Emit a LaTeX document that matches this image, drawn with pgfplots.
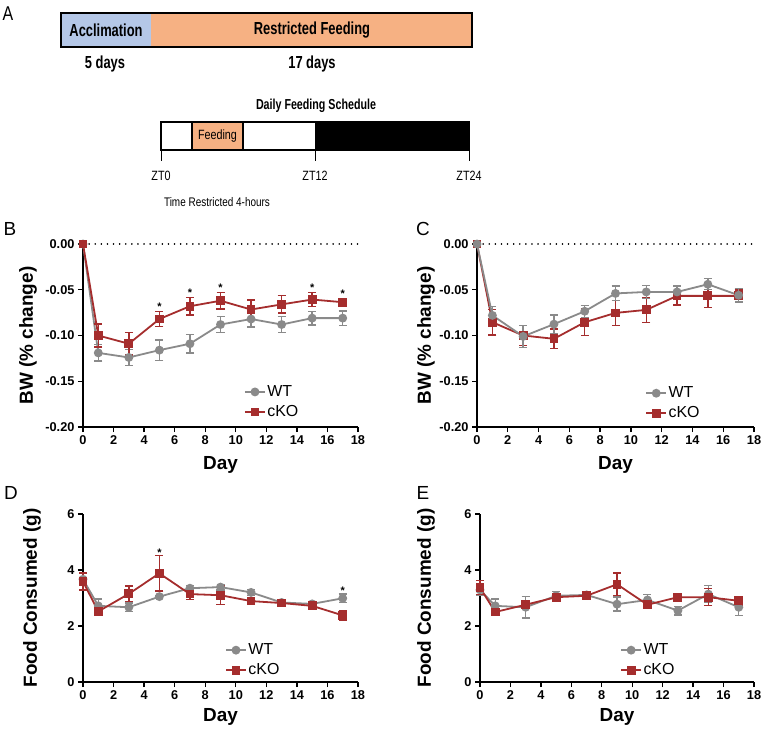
\documentclass[border=0pt]{standalone}
\usepackage{pgfplots}
\pgfplotsset{compat=1.18}
\usepackage{fontspec}
\setmainfont{Liberation Sans}
\newfontfamily\narrowfont[FakeStretch=0.74]{Liberation Sans}
\newfontfamily\narrowerfont[FakeStretch=0.8]{Liberation Sans}
\definecolor{wtgray}{RGB}{138,138,138}
\definecolor{kored}{RGB}{165,45,45}
\definecolor{accblue}{RGB}{180,199,231}
\definecolor{feedorange}{RGB}{246,177,131}

\tikzset{star/.style={font=\bfseries\fontsize{11}{11}\selectfont, yshift=-2bp}}
\pgfplotsset{
  panel/.style={
    scale only axis, axis lines=left,
    axis line style={-, line width=1.8bp, black},
    tick align=outside, major tick length=5bp,
    tick style={line width=1.4bp, black},
    xmin=0, xmax=18, xtick={0,2,...,18},
    ticklabel style={font=\bfseries\fontsize{12.8}{13}\selectfont},
    /pgf/number format/assume math mode=true,
    xlabel={Day},
    label style={font=\bfseries\fontsize{19}{20}\selectfont},
    xlabel style={at={(axis description cs:0.5,-0.21)}, anchor=center},
    clip=false,
    legend style={draw=none, fill=none, anchor=west, inner sep=0pt,
      font=\fontsize{16}{16}\selectfont, row sep=4bp,
      nodes={inner sep=1.5bp, text height=11bp, text depth=2bp}},
    legend cell align=left,
    legend image code/.code={\draw[mark repeat=2,mark phase=2] plot coordinates {(0bp,0bp) (10bp,0bp) (20bp,0bp)};},
  },
  wt/.style={wtgray, line width=1.8bp, mark=*, mark size=3.5bp,
    mark options={solid, fill=wtgray, draw=wtgray},
    error bars/y dir=both, error bars/y explicit,
    error bars/error bar style={line width=1.4bp, wtgray},
    error bars/error mark options={rotate=90, line width=1.4bp, mark size=4bp, wtgray}},
  ko/.style={kored, line width=1.8bp, mark=square*, mark size=3.5bp,
    mark options={solid, fill=kored, draw=kored},
    error bars/y dir=both, error bars/y explicit,
    error bars/error bar style={line width=1.4bp, kored},
    error bars/error mark options={rotate=90, line width=1.4bp, mark size=4bp, kored}},
}

\begin{document}
\begin{tikzpicture}
\path[use as bounding box] (0,0) rectangle (766bp,-733bp);

% ---------------- Panel A ----------------
\begin{scope}[x=1bp,y=1bp]
\fill[accblue] (61,-13) rectangle (151,-47);
\fill[feedorange] (151,-13) rectangle (472,-47);
\draw[line width=2.6bp] (61,-13) rectangle (472,-47);
\node[font=\narrowfont\bfseries\fontsize{17.5}{18}\selectfont] at (106,-30) {Acclimation};
\node[font=\narrowfont\bfseries\fontsize{17.5}{18}\selectfont] at (312,-30) {Restricted Feeding};
\node[font=\narrowfont\bfseries\fontsize{17.5}{18}\selectfont] at (105,-64) {5 days};
\node[font=\narrowfont\bfseries\fontsize{17.5}{18}\selectfont] at (312,-64) {17 days};
\node[font=\narrowfont\bfseries\fontsize{14.5}{15}\selectfont] at (316,-106) {Daily Feeding Schedule};
\fill[white] (161,-122) rectangle (315,-150);
\fill[black] (315,-122) rectangle (469,-150);
\fill[feedorange] (192,-122) rectangle (243,-150);
\draw[line width=1.2bp] (192,-122) rectangle (243,-150);
\draw[line width=1.6bp] (161,-122) rectangle (469,-150);
\draw[line width=0.8bp] (161,-150) -- (161,-161);
\draw[line width=0.8bp] (315,-150) -- (315,-161);
\draw[line width=0.8bp] (469,-150) -- (469,-161);
\node[font=\narrowerfont\fontsize{13.5}{14}\selectfont] at (217.5,-136) {Feeding};
\node[font=\narrowerfont\fontsize{13.5}{14}\selectfont] at (161,-176) {ZT0};
\node[font=\narrowerfont\fontsize{13.5}{14}\selectfont] at (315,-176) {ZT12};
\node[font=\narrowerfont\fontsize{13.5}{14}\selectfont] at (469,-176) {ZT24};
\node[font=\narrowerfont\fontsize{12.5}{13}\selectfont] at (217,-202) {Time Restricted 4-hours};
\node[font=\narrowerfont\fontsize{20}{20}\selectfont] at (8,-14) {A};
\node[font=\fontsize{19}{19}\selectfont] at (10,-229) {B};
\node[font=\fontsize{19}{19}\selectfont] at (423,-229) {C};
\node[font=\fontsize{19}{19}\selectfont] at (11,-493) {D};
\node[font=\fontsize{19}{19}\selectfont] at (423,-493) {E};
\end{scope}

% ---------------- Panel B ----------------
\begin{axis}[panel, at={(83bp,-427bp)}, anchor=south west, width=275bp, height=183bp,
  ymin=-0.2, ymax=0, ytick={-0.2,-0.15,-0.1,-0.05,0},
  yticklabels={-0.20,-0.15,-0.10,-0.05,0.00},
  ylabel={BW (\% change)},
  ylabel style={at={(axis description cs:-0.2,0.5)}, anchor=center},
  legend style={at={(0.585,0.137)}}]
\addplot[black, line width=1.6bp, dash pattern=on 0.1bp off 6bp, line cap=round, forget plot] coordinates {(0,0) (18,0)};
\addplot[wt] coordinates {
 (0,0) +- (0,0)
 (1,-0.119) +- (0,0.009)
 (3,-0.124) +- (0,0.009)
 (5,-0.116) +- (0,0.011)
 (7,-0.109) +- (0,0.010)
 (9,-0.088) +- (0,0.0085)
 (11,-0.082) +- (0,0.0085)
 (13,-0.088) +- (0,0.0085)
 (15,-0.081) +- (0,0.0075)
 (17,-0.081) +- (0,0.008)
};
\addplot[ko] coordinates {
 (0,0) +- (0,0)
 (1,-0.100) +- (0,0.0125)
 (3,-0.109) +- (0,0.0125)
 (5,-0.082) +- (0,0.008)
 (7,-0.068) +- (0,0.0095)
 (9,-0.062) +- (0,0.009)
 (11,-0.0716) +- (0,0.0104)
 (13,-0.066) +- (0,0.0094)
 (15,-0.0607) +- (0,0.0075)
 (17,-0.0636) +- (0,0.003)
};
\legend{WT,cKO}
\node[star] at (axis cs:5,-0.0665) {*};
\node[star] at (axis cs:7,-0.0513) {*};
\node[star] at (axis cs:9,-0.0458) {*};
\node[star] at (axis cs:15,-0.0458) {*};
\node[star] at (axis cs:17,-0.052) {*};
\end{axis}

% ---------------- Panel C ----------------
\begin{axis}[panel, at={(477bp,-427bp)}, anchor=south west, width=277bp, height=183bp,
  ymin=-0.2, ymax=0, ytick={-0.2,-0.15,-0.1,-0.05,0},
  yticklabels={-0.20,-0.15,-0.10,-0.05,0.00},
  ylabel={BW (\% change)},
  ylabel style={at={(axis description cs:-0.184,0.5)}, anchor=center},
  legend style={at={(0.607,0.13)}}]
\addplot[black, line width=1.6bp, dash pattern=on 0.1bp off 6bp, line cap=round, forget plot] coordinates {(0,0) (18,0)};
\addplot[ko, forget plot] coordinates {
 (0,0) +- (0,0)
 (1,-0.0855) +- (0,0.014)
 (3,-0.100) +- (0,0.011)
 (5,-0.1036) +- (0,0.0105)
 (7,-0.0855) +- (0,0.0145)
 (9,-0.0753) +- (0,0.0135)
 (11,-0.072) +- (0,0.0135)
 (13,-0.0567) +- (0,0.010)
 (15,-0.0567) +- (0,0.0125)
 (17,-0.0567) +- (0,0.0065)
};
\addplot[wt] coordinates {
 (0,0) +- (0,0)
 (1,-0.078) +- (0,0.010)
 (3,-0.101) +- (0,0.012)
 (5,-0.0876) +- (0,0.010)
 (7,-0.0735) +- (0,0.0066)
 (9,-0.054) +- (0,0.008)
 (11,-0.0524) +- (0,0.007)
 (13,-0.0524) +- (0,0.0067)
 (15,-0.044) +- (0,0.006)
 (17,-0.056) +- (0,0.0075)
};
\addlegendentry{WT}
\addlegendimage{ko}
\addlegendentry{cKO}
\end{axis}

% ---------------- Panel D ----------------
\begin{axis}[panel, at={(83bp,-682bp)}, anchor=south west, width=275bp, height=168bp,
  ymin=0, ymax=6, ytick={0,2,4,6},
  ylabel={Food Consumed (g)},
  ylabel style={at={(axis description cs:-0.185,0.5)}, anchor=center},
  legend style={at={(0.516,0.13)}}]
\addplot[wt] coordinates {
 (0,3.67) +- (0,0.2)
 (1,2.72) +- (0,0.25)
 (3,2.67) +- (0,0.15)
 (5,3.05) +- (0,0.05)
 (7,3.35) +- (0,0.1)
 (9,3.39) +- (0,0.1)
 (11,3.20) +- (0,0.1)
 (13,2.84) +- (0,0.1)
 (15,2.79) +- (0,0.05)
 (17,2.99) +- (0,0.15)
};
\addplot[ko] coordinates {
 (0,3.59) +- (0,0.3)
 (1,2.52) +- (0,0.1)
 (3,3.15) +- (0,0.28)
 (5,3.88) +- (0,0.63)
 (7,3.14) +- (0,0.2)
 (9,3.10) +- (0,0.33)
 (11,2.89) +- (0,0.12)
 (13,2.82) +- (0,0.1)
 (15,2.72) +- (0,0.05)
 (17,2.38) +- (0,0.17)
};
\legend{WT,cKO}
\node[star] at (axis cs:5,4.69) {*};
\node[star] at (axis cs:17,3.34) {*};
\end{axis}

% ---------------- Panel E ----------------
\begin{axis}[panel, at={(480bp,-682bp)}, anchor=south west, width=274bp, height=168bp,
  ymin=0, ymax=6, ytick={0,2,4,6},
  ylabel={Food Consumed (g)},
  ylabel style={at={(axis description cs:-0.197,0.5)}, anchor=center},
  legend style={at={(0.511,0.13)}}]
\addplot[wt] coordinates {
 (0,3.29) +- (0,0.2)
 (1,2.72) +- (0,0.25)
 (3,2.67) +- (0,0.38)
 (5,3.08) +- (0,0.15)
 (7,3.11) +- (0,0.08)
 (9,2.78) +- (0,0.25)
 (11,2.93) +- (0,0.2)
 (13,2.55) +- (0,0.15)
 (15,3.14) +- (0,0.3)
 (17,2.67) +- (0,0.3)
};
\addplot[ko] coordinates {
 (0,3.37) +- (0,0.25)
 (1,2.50) +- (0,0.1)
 (3,2.76) +- (0,0.1)
 (5,3.03) +- (0,0.1)
 (7,3.08) +- (0,0.05)
 (9,3.49) +- (0,0.4)
 (11,2.76) +- (0,0.1)
 (13,3.03) +- (0,0.1)
 (15,3.03) +- (0,0.3)
 (17,2.90) +- (0,0.15)
};
\legend{WT,cKO}
\end{axis}
\end{tikzpicture}
\end{document}
